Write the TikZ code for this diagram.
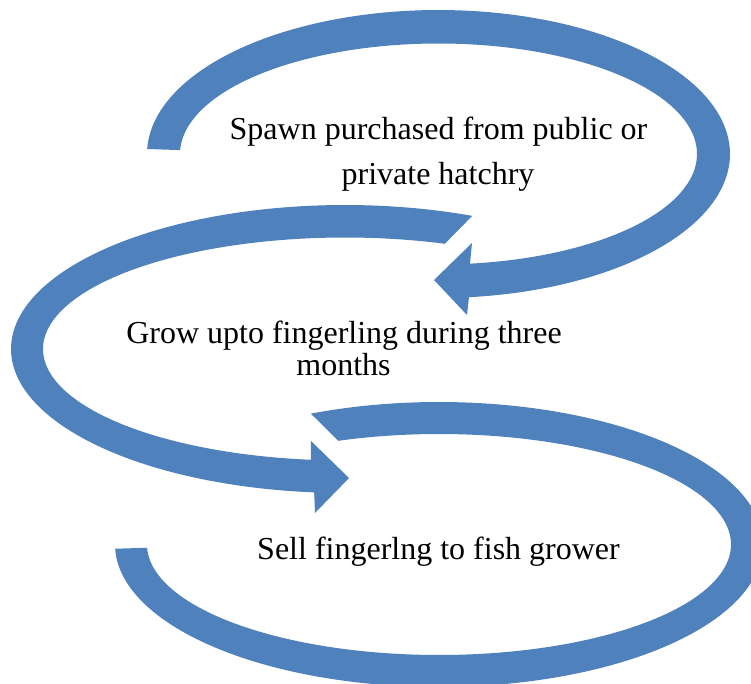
\documentclass[tikz,border=0pt]{standalone}
\usepackage{fontspec}
\setmainfont{Liberation Serif}
\definecolor{loopblue}{RGB}{79,129,189}
\begin{document}
\begin{tikzpicture}[x=1pt,y=-1pt,
  band/.style={fill=loopblue,draw=none},
  lbl/.style={anchor=base,inner sep=0pt,font=\fontsize{32}{38}\selectfont}]
\useasboundingbox (0,0) rectangle (751,684);
\clip (0,0) rectangle (751,684);

% first loop: clockwise, arrowhead pointing left
\fill[band]
  plot[domain=178:-84,samples=140,variable=\t] ({438.5+291.5*cos(\t)},{154-144*sin(\t)})
  -- (467,315) -- (434,280) -- (472,243)
  -- plot[domain=-83:178,samples=140,variable=\t] ({438.5+258.5*cos(\t)},{154-110.5*sin(\t)})
  -- cycle;

% second loop: counter-clockwise, arrowhead pointing right
\fill[band]
  plot[domain=67.6:264.7,samples=140,variable=\t] ({345+334*cos(\t)},{349-144*sin(\t)})
  -- (315,513) -- (349,478) -- (311,441)
  -- plot[domain=263.5:70.7,samples=140,variable=\t] ({345+302*cos(\t)},{349-111.5*sin(\t)})
  -- cycle;

% third loop: clockwise, open end on the left
\fill[band]
  plot[domain=113.3:-178.3,samples=180,variable=\t] ({439+324*cos(\t)},{544.5-142.5*sin(\t)})
  -- plot[domain=-178.3:110.2,samples=180,variable=\t] ({439+292*cos(\t)},{544.5-110.5*sin(\t)})
  -- cycle;

\node[lbl] (spawnA) at (438.5,140) {Spawn purchased from public or};
\node[lbl] (spawnB) at (438,185) {private hatchry};
\node[lbl] (growA) at (344,343) {Grow upto fingerling during three};
\node[lbl] (growB) at (343.5,375) {months};
\node[lbl] (sell) at (438.5,559) {Sell fingerlng to fish grower};
\end{tikzpicture}
\end{document}
